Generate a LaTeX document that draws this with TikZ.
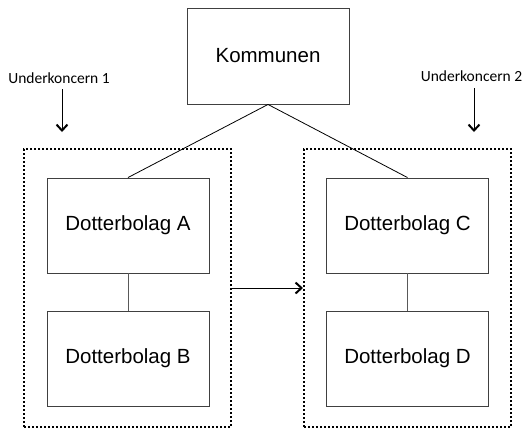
\documentclass[tikz,border=0pt]{standalone}
\usepackage{fontspec}
\setmainfont{Liberation Sans}
\newfontfamily\labelfont{Carlito}
\usetikzlibrary{arrows.meta}
\begin{document}
\begin{tikzpicture}[x=1pt,y=-1pt,
  entity/.style={draw=black!75,line width=0.9pt,minimum width=162pt,minimum height=95pt,inner sep=0pt,
    font=\fontsize{20.5}{24}\selectfont},
  groupbox/.style={draw=black,line width=2pt,dash pattern=on 2pt off 2pt,minimum width=207pt,minimum height=278pt,inner sep=0pt},
  grouplabel/.style={font=\labelfont\fontsize{15.5}{18}\selectfont,inner sep=0pt},
  link/.style={draw=black,line width=0.8pt},
  sublink/.style={draw=black!65,line width=1pt},
  pointer/.style={draw=black,line width=0.9pt,-{Straight Barb[length=6pt,width=11pt,line width=2pt]}}]
\useasboundingbox (0,0) rectangle (523,429);
\node[groupbox] (g1) at (127.5,288) {};
\node[groupbox] (g2) at (407.5,288) {};
\node[entity,minimum height=96pt] (k) at (268,56) {Kommunen};
\node[entity] (a) at (128,225.5) {Dotterbolag A};
\node[entity] (b) at (128,358.5) {Dotterbolag B};
\node[entity] (c) at (407.5,225.5) {Dotterbolag C};
\node[entity] (d) at (407.5,358.5) {Dotterbolag D};
\node[grouplabel] (u1) at (59,78) {Underkoncern 1};
\node[grouplabel] (u2) at (471.5,76) {Underkoncern 2};
\coordinate (p1s) at (62,89);
\coordinate (p1e) at (62,132);
\coordinate (p2s) at (474,88);
\coordinate (p2e) at (474,132);
\draw[link] (k.south) -- (a.north);
\draw[link] (k.south) -- (c.north);
\draw[sublink] (a.south) -- (b.north);
\draw[sublink] (c.south) -- (d.north);
\draw[pointer] (g1.east) -- (g2.west);
\draw[pointer] (p1s) -- (p1e);
\draw[pointer] (p2s) -- (p2e);
\end{tikzpicture}
\end{document}
